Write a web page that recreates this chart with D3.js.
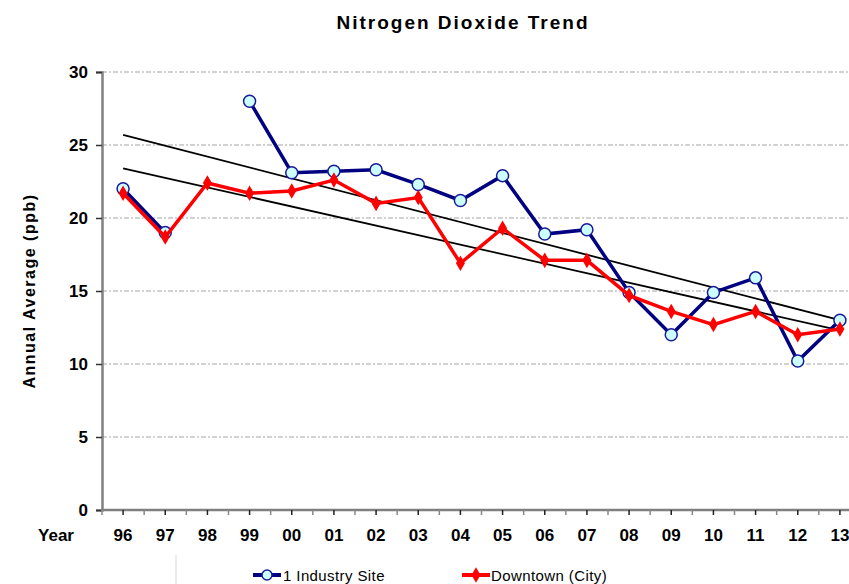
<!DOCTYPE html>
<html>
<head>
<meta charset="utf-8">
<script src="https://cdn.jsdelivr.net/npm/d3@7"></script>
<style>
  body { margin: 0; background: #fff; }
  text { font-family: "Liberation Sans", Arial, sans-serif; }
</style>
</head>
<body>
<svg width="849" height="584"></svg>
<script>
var years = ['96','97','98','99','00','01','02','03','04','05','06','07','08','09','10','11','12','13']
var industry = [22.0, 19.0, null, 28.0, 23.1, 23.2, 23.3, 22.3, 21.2, 22.9, 18.9, 19.2, 14.9, 12.0, 14.9, 15.9, 10.2, 13.0]
var downtown = [21.7, 18.7, 22.4, 21.7, 21.85, 22.6, 21.0, 21.4, 16.9, 19.3, 17.1, 17.1, 14.7, 13.6, 12.7, 13.6, 12.0, 12.4]
// trend lines, start (96) and end (13) values
var industryTrend = [25.7, 13.0]
var downtownTrend = [23.4, 12.3]
var yTicks = [0, 5, 10, 15, 20, 25, 30]

var svg = d3.select('svg')

var x = d3.scaleBand().domain(years).range([102, 861])
var bw = x.bandwidth()
var cx = function(yr){ return x(yr) + bw / 2 }
var y = d3.scaleLinear().domain([0, 30]).range([510, 72])

// title
svg.append('text')
    .attr('x', 463).attr('y', 29)
    .attr('text-anchor', 'middle')
    .style('font-size', '19px').style('font-weight', 'bold').style('letter-spacing', '2px')
    .text('Nitrogen Dioxide Trend')

// gridlines
svg.append('g')
    .selectAll('line')
    .data(yTicks.filter(function(d){ return d > 0 }))
    .enter()
    .append('line')
    .attr('x1', 102).attr('x2', 849)
    .attr('y1', function(d){ return y(d) }).attr('y2', function(d){ return y(d) })
    .attr('stroke', '#c4c4c4').attr('stroke-width', 1.5).attr('stroke-dasharray', '5,2,2,2')

// y axis
var yAxis = d3.axisLeft(y).tickValues(yTicks).tickSize(6).tickPadding(8)
var gy = svg.append('g').attr('transform', 'translate(102,0)').call(yAxis)
gy.select('.domain').attr('stroke', '#808080').attr('stroke-width', 2.5)
gy.selectAll('.tick line').attr('stroke', '#333').attr('stroke-width', 1.5)
gy.selectAll('.tick text')
    .style('font-size', '17px').style('font-weight', 'bold').style('font-family', '"Liberation Sans", Arial, sans-serif')
    .attr('fill', '#000')

// x axis line + half-band ticks
svg.append('line')
    .attr('x1', 101).attr('x2', 849).attr('y1', y(0)).attr('y2', y(0))
    .attr('stroke', '#808080').attr('stroke-width', 2.5)
var tickPos = []
years.forEach(function(yr){ tickPos.push(x(yr)); tickPos.push(cx(yr)) })
svg.append('g')
    .selectAll('line')
    .data(tickPos)
    .enter()
    .append('line')
    .attr('x1', function(d){ return d }).attr('x2', function(d){ return d })
    .attr('y1', y(0)).attr('y2', y(0) + 5)
    .attr('stroke', function(d, i){ return i % 2 ? '#222' : '#888' }).attr('stroke-width', 1.5)

svg.append('g')
    .selectAll('text')
    .data(years)
    .enter()
    .append('text')
    .attr('x', function(d){ return cx(d) }).attr('y', 541)
    .attr('text-anchor', 'middle')
    .style('font-size', '17px').style('font-weight', 'bold')
    .text(function(d){ return d })

svg.append('text')
    .attr('x', 56).attr('y', 541)
    .attr('text-anchor', 'middle')
    .style('font-size', '17px').style('font-weight', 'bold')
    .text('Year')

// y title
svg.append('text')
    .attr('transform', 'translate(35,291) rotate(-90)')
    .attr('text-anchor', 'middle')
    .style('font-size', '16px').style('font-weight', 'bold').style('letter-spacing', '1.5px')
    .text('Annual Average (ppb)')

// trend lines
function drawTrend(vals){
    svg.append('line')
        .attr('x1', cx(years[0])).attr('y1', y(vals[0]))
        .attr('x2', cx(years[years.length - 1])).attr('y2', y(vals[1]))
        .attr('stroke', '#000').attr('stroke-width', 1.8)
}
drawTrend(industryTrend)
drawTrend(downtownTrend)

var line = d3.line()
    .defined(function(d){ return d != null })
    .x(function(d, i){ return cx(years[i]) })
    .y(function(d){ return y(d) })

// industry series
svg.append('path')
    .attr('d', line(industry))
    .attr('fill', 'none').attr('stroke', '#000080').attr('stroke-width', 3.5)
svg.append('g')
    .selectAll('circle')
    .data(industry.map(function(v, i){ return {v: v, yr: years[i]} }).filter(function(d){ return d.v != null }))
    .enter()
    .append('circle')
    .attr('cx', function(d){ return cx(d.yr) }).attr('cy', function(d){ return y(d.v) })
    .attr('r', 6)
    .attr('fill', '#ccffff').attr('stroke', '#1a1a9a').attr('stroke-width', 1.5)

// downtown series
svg.append('path')
    .attr('d', line(downtown))
    .attr('fill', 'none').attr('stroke', '#ff0000').attr('stroke-width', 3.5)
var diamond = d3.symbol().type(d3.symbolDiamond).size(70)
svg.append('g')
    .selectAll('path')
    .data(downtown)
    .enter()
    .append('path')
    .attr('d', diamond)
    .attr('transform', function(d, i){ return `translate(${cx(years[i])},${y(d)})` })
    .attr('fill', '#ff0000')

// legend
svg.append('line')
    .attr('x1', 176).attr('x2', 176).attr('y1', 555).attr('y2', 584)
    .attr('stroke', '#e4e4e4').attr('stroke-width', 1.5)

var lg1 = svg.append('g').attr('transform', 'translate(253,575)')
lg1.append('line').attr('x1', 0).attr('x2', 28).attr('y1', 0).attr('y2', 0)
    .attr('stroke', '#000080').attr('stroke-width', 4)
lg1.append('circle').attr('cx', 14).attr('cy', 0).attr('r', 5)
    .attr('fill', '#ccffff').attr('stroke', '#1a1a9a').attr('stroke-width', 1.5)
lg1.append('text').attr('x', 30).attr('y', 6)
    .style('font-size', '15px').style('letter-spacing', '0.4px')
    .text('1 Industry Site')

var lg2 = svg.append('g').attr('transform', 'translate(462,575)')
lg2.append('line').attr('x1', 0).attr('x2', 28).attr('y1', 0).attr('y2', 0)
    .attr('stroke', '#ff0000').attr('stroke-width', 4)
lg2.append('path').attr('d', diamond).attr('transform', 'translate(14,0)').attr('fill', '#ff0000')
lg2.append('text').attr('x', 29).attr('y', 6)
    .style('font-size', '15px').style('letter-spacing', '0.4px')
    .text('Downtown (City)')
</script>
</body>
</html>
